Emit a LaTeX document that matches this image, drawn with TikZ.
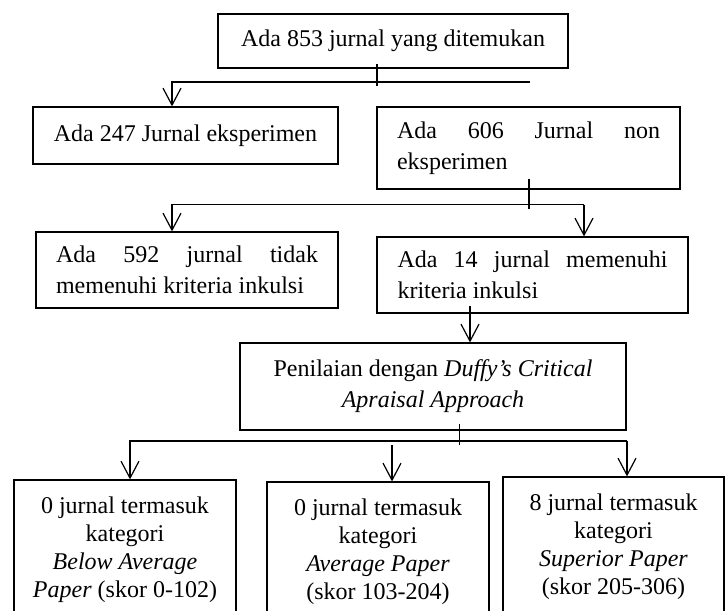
\documentclass[tikz,border=0pt]{standalone}
\usepackage{fontspec}
\setmainfont{Liberation Serif}
\usepackage{tikz}
\usetikzlibrary{arrows.meta}
\hyphenpenalty=10000
\tolerance=10000
\hbadness=10000

\begin{document}
\begin{tikzpicture}[
  box/.style={rectangle, draw=black, line width=0.6pt, inner sep=0pt, font=\fontsize{12pt}{15.5pt}\selectfont},
  catbox/.style={box, minimum height=70pt, align=center, font=\fontsize{12pt}{14pt}\selectfont},
  line/.style={line width=0.6pt, color=black},
  arr/.style={line width=0.6pt, color=black, -{Straight Barb[length=8.5pt,width=9pt]}}]
\path [use as bounding box, clip] (0pt,0pt) rectangle (363pt,-305pt);
\node (1) [box, minimum width=175pt, minimum height=27pt] at (196.5pt, -20.5pt) {Ada 853 jurnal yang ditemukan};
\node (2) [box, minimum width=152.5pt, minimum height=28.5pt] at (92.75pt, -67.75pt) {Ada 247 Jurnal eksperimen};
\node (3) [box, minimum width=151.5pt, minimum height=41pt, text width=131.5pt, align=justify] at (264.25pt, -74pt) {Ada 606 Jurnal non eksperimen};
\node (4) [box, minimum width=151pt, minimum height=38pt, text width=131pt, align=justify] at (93.5pt, -135pt) {Ada 592 jurnal tidak memenuhi kriteria inkulsi};
\node (5) [box, minimum width=155.5pt, minimum height=38pt, text width=135pt, align=justify] at (266.25pt, -137.5pt) {Ada 14 jurnal memenuhi kriteria inkulsi};
\node (6) [box, minimum width=193pt, minimum height=43.5pt, align=center] at (216.5pt, -193.25pt) {Penilaian dengan \textit{Duffy’s Critical}\\\textit{Apraisal Approach}};
\node (7) [catbox, minimum width=111pt] at (62.5pt, -275pt) {0 jurnal termasuk\\kategori\\\textit{Below Average}\\\textit{Paper} (skor 0-102)};
\node (8) [catbox, minimum width=111pt] at (189pt, -276pt) {0 jurnal termasuk\\kategori\\\textit{Average Paper}\\(skor 103-204)};
\node (9) [catbox, minimum width=110.5pt] at (306.75pt, -273.5pt) {8 jurnal termasuk\\kategori\\\textit{Superior Paper}\\(skor 205-306)};
% junctions
\coordinate (s1) at (188.5pt, -43pt);
\coordinate (h1w) at (86pt, -41pt);
\coordinate (h1e) at (265pt, -41pt);
\coordinate (s2) at (264.5pt, -104.5pt);
\coordinate (h2w) at (86pt, -102.25pt);
\coordinate (h2e) at (292pt, -102.25pt);
\coordinate (a3) at (235pt, -153pt);
\coordinate (s4) at (229.75pt, -222.5pt);
\coordinate (h4w) at (65pt, -220.5pt);
\coordinate (h4e) at (313.5pt, -220.5pt);
\coordinate (m4) at (196pt, -222.5pt);
\draw [line] ([yshift=2.5pt]1.south -| s1) to (s1);
\draw [arr] (h1e) -- (h1w) -- (2.north -| h1w);
\draw [line] ([yshift=5.5pt]3.south -| s2) to (s2);
\draw [arr] (h2e) -- (h2w) -- (4.north -| h2w);
\draw [arr] (h2e) to (5.north -| h2e);
\draw [arr] (a3) to (6.north -| a3);
\draw [line] ([yshift=3.5pt]6.south -| s4) to (s4);
\draw [arr] (h4e) -- (h4w) -- (7.north -| h4w);
\draw [arr] (h4e) to (9.north -| h4e);
\draw [arr] (m4) to (8.north -| m4);
\end{tikzpicture}
\end{document}
